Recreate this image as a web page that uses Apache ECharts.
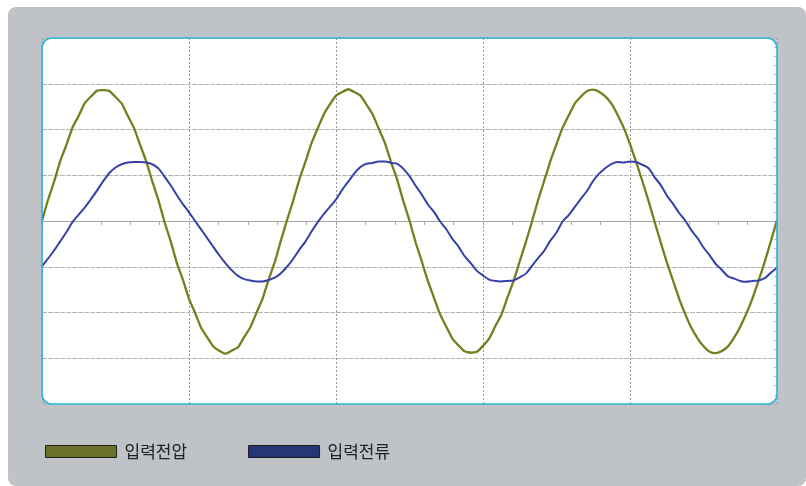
<!DOCTYPE html>
<html>
<head>
<meta charset="utf-8">
<script src="https://cdn.jsdelivr.net/npm/echarts@6/dist/echarts.min.js"></script>
<style>
html,body{margin:0;padding:0;background:#ffffff;}
#chart{width:806px;height:486px;}
</style>
</head>
<body>
<div id="chart"></div>
<script>
// sample times (ms), 0.5 ms steps across 5 divisions (12 ms/div)
const timeMs = [0,0.5,1,1.5,2,2.5,3,3.5,4,4.5,5,5.5,6,6.5,7,7.5,8,8.5,9,9.5,
10,10.5,11,11.5,12,12.5,13,13.5,14,14.5,15,15.5,16,16.5,17,17.5,18,18.5,19,19.5,
20,20.5,21,21.5,22,22.5,23,23.5,24,24.5,25,25.5,26,26.5,27,27.5,28,28.5,29,29.5,
30,30.5,31,31.5,32,32.5,33,33.5,34,34.5,35,35.5,36,36.5,37,37.5,38,38.5,39,39.5,
40,40.5,41,41.5,42,42.5,43,43.5,44,44.5,45,45.5,46,46.5,47,47.5,48,48.5,49,49.5,
50,50.5,51,51.5,52,52.5,53,53.5,54,54.5,55,55.5,56,56.5,57,57.5,58,58.5,59,59.5,60];

// 입력전압 (divisions)
const voltage = [
0.00,0.47,0.87,1.32,1.67,2.05,2.30,2.58,2.72,2.85,2.86,2.84,2.71,2.57,2.30,2.04,1.67,1.31,0.87,0.46,
-0.02,-0.44,-0.91,-1.28,-1.70,-2.01,-2.34,-2.55,-2.75,-2.84,-2.90,-2.83,-2.76,-2.54,-2.33,-2.01,-1.70,-1.28,-0.90,-0.43,
0.02,0.44,0.90,1.29,1.70,2.02,2.33,2.55,2.74,2.82,2.88,2.82,2.74,2.54,2.33,2.01,1.70,1.28,0.90,0.43,
0.01,-0.47,-0.88,-1.31,-1.68,-2.04,-2.31,-2.57,-2.72,-2.85,-2.88,-2.86,-2.73,-2.57,-2.30,-2.05,-1.67,-1.31,-0.88,-0.46,
-0.01,0.46,0.88,1.31,1.68,2.04,2.31,2.57,2.72,2.84,2.87,2.82,2.72,2.56,2.31,2.03,1.68,1.29,0.88,0.45,
-0.01,-0.46,-0.90,-1.29,-1.69,-2.03,-2.33,-2.56,-2.74,-2.86,-2.89,-2.84,-2.74,-2.55,-2.31,-2.02,-1.69,-1.30,-0.89,-0.44,
0.02];

// 입력전류 (divisions)
const current = [
-0.99,-0.82,-0.64,-0.44,-0.24,-0.02,0.14,0.30,0.48,0.67,0.87,1.05,1.17,1.24,1.28,1.29,1.29,1.28,1.24,1.15,
0.97,0.78,0.57,0.37,0.19,0.00,-0.19,-0.38,-0.57,-0.76,-0.93,-1.08,-1.20,-1.27,-1.30,-1.32,-1.32,-1.29,-1.24,-1.14,
-1.00,-0.83,-0.63,-0.45,-0.23,-0.03,0.15,0.31,0.47,0.68,0.86,1.04,1.18,1.25,1.27,1.30,1.30,1.27,1.25,1.14,
0.98,0.77,0.58,0.36,0.20,-0.01,-0.18,-0.39,-0.56,-0.77,-0.92,-1.09,-1.19,-1.28,-1.31,-1.32,-1.31,-1.30,-1.23,-1.15,
-0.98,-0.81,-0.65,-0.43,-0.25,-0.01,0.13,0.31,0.49,0.66,0.88,1.04,1.16,1.25,1.29,1.28,1.30,1.29,1.23,1.16,
0.96,0.79,0.56,0.38,0.18,0.01,-0.20,-0.37,-0.58,-0.75,-0.94,-1.07,-1.21,-1.26,-1.31,-1.33,-1.31,-1.30,-1.25,-1.13,
-1.02];

const seriesNames = ['입력전압', '입력전류'];

const chart = echarts.init(document.getElementById('chart'), null, {renderer: 'canvas'});

const pairs = (vals) => vals.map((v, i) => [timeMs[i], v]);

chart.setOption({
  animation: false,
  backgroundColor: '#ffffff',
  textStyle: {fontFamily: '"Noto Sans CJK KR", "Noto Sans", sans-serif'},
  graphic: [
    {type: 'rect', z: -20, silent: true,
     shape: {x: 8, y: 7, width: 798, height: 479, r: 8},
     style: {fill: '#bfc3c7'}},
    {type: 'rect', z: -19, silent: true,
     shape: {x: 42, y: 38, width: 735, height: 366, r: 10},
     style: {fill: '#ffffff'}},
    {type: 'rect', z: 100, silent: true,
     shape: {x: 42, y: 38, width: 735, height: 366, r: 10},
     style: {fill: 'none', stroke: '#2eb6d8', lineWidth: 1.6}}
  ],
  grid: {left: 42, right: 29, top: 38, bottom: 82, show: false},
  legend: {
    left: 45, top: 443, padding: 0,
    itemWidth: 71, itemHeight: 12, itemGap: 61,
    icon: 'rect',
    itemStyle: {borderColor: '#1e1e1e', borderWidth: 1},
    textStyle: {fontSize: 17, color: '#222222', padding: [0, 0, 0, 3],
                fontFamily: '"Noto Sans CJK KR", sans-serif'},
    data: [
      {name: seriesNames[0], itemStyle: {color: '#6a722a'}},
      {name: seriesNames[1], itemStyle: {color: '#263676'}}
    ]
  },
  xAxis: {
    type: 'value', min: 0, max: 60, interval: 12,
    axisLabel: {show: false},
    axisLine: {show: true, onZero: true, lineStyle: {color: '#a4a4a4', width: 1}},
    axisTick: {show: true, length: 4, inside: false, lineStyle: {color: '#a0a0a0'}},
    minorTick: {show: true, splitNumber: 5, length: 4, lineStyle: {color: '#a8a8a8'}},
    splitLine: {show: true, lineStyle: {color: '#999999', width: 1, type: [2, 2]}}
  },
  yAxis: {
    type: 'value', min: -4, max: 4, interval: 1, position: 'right',
    axisLabel: {show: false},
    axisLine: {show: false, onZero: false},
    axisTick: {show: true, inside: true, length: 3, lineStyle: {color: '#b0b0b0'}},
    minorTick: {show: true, splitNumber: 5, length: 3, lineStyle: {color: '#b8b8b8'}},
    splitLine: {show: true, lineStyle: {color: '#b6b6b6', width: 1, type: [5, 1]}}
  },
  series: [
    {name: seriesNames[0], type: 'line', data: pairs(voltage), showSymbol: false, smooth: 0.15,
     lineStyle: {color: '#72801f', width: 2.3}, itemStyle: {color: '#72801f'}, z: 3},
    {name: seriesNames[1], type: 'line', data: pairs(current), showSymbol: false, smooth: 0.3,
     lineStyle: {color: '#3540aa', width: 2}, itemStyle: {color: '#3540aa'}, z: 4}
  ]
});
</script>
</body>
</html>
